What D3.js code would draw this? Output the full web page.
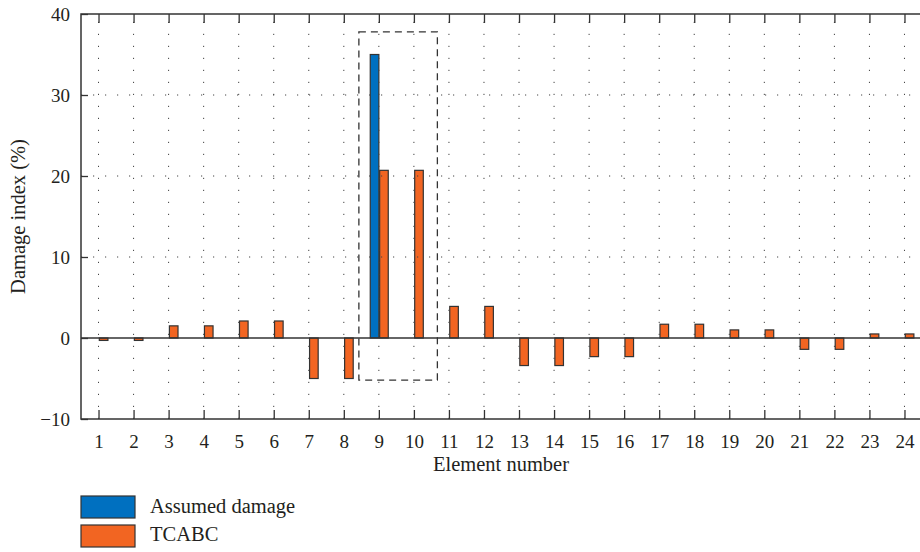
<!DOCTYPE html>
<html>
<head>
<meta charset="utf-8">
<script src="https://cdn.jsdelivr.net/npm/d3@7"></script>
<style>
  body { margin: 0; background: #fff; }
  text { font-family: "Liberation Serif", "Times New Roman", serif; fill: #231f20; }
</style>
</head>
<body>
<div id="chart"></div>
<script>
var width = 920;
var height = 552;

// data
var elements = d3.range(1, 25);
var assumed = [0, 0, 0, 0, 0, 0, 0, 0, 35, 0, 0, 0, 0, 0, 0, 0, 0, 0, 0, 0, 0, 0, 0, 0];
var tcabc = [-0.3, -0.3, 1.5, 1.5, 2.1, 2.1, -5.0, -5.0, 20.7, 20.7, 3.9, 3.9,
             -3.4, -3.4, -2.3, -2.3, 1.7, 1.7, 1.0, 1.0, -1.4, -1.4, 0.5, 0.5];
var yTicks = [-10, 0, 10, 20, 30, 40];
var seriesNames = ["Assumed damage", "TCABC"];
var seriesColors = ["#0070c0", "#f26522"];
// dashed box around elements 9 and 10: [x0, x1, y0, y1]
var highlight = [8.43, 10.67, -5.2, 37.8];

var margin = {left: 81, top: 14, right: -2, bottom: 133};
var serif = '"Liberation Serif", "Times New Roman", serif';

var svg = d3.select("#chart")
    .append("svg")
    .attr("width", width)
    .attr("height", height);

var x = d3.scaleLinear()
    .domain([0.5, 24.5])
    .range([margin.left, width - margin.right]);
var y = d3.scaleLinear()
    .domain([-10, 40])
    .range([height - margin.bottom, margin.top]);

var barW = 8.6;

// bars
var bars = svg.append("g");
elements.forEach(function(e, i) {
    if (assumed[i] !== 0) {
        bars.append("rect")
            .attr("x", x(e) - barW)
            .attr("y", y(Math.max(0, assumed[i])))
            .attr("width", barW)
            .attr("height", Math.abs(y(assumed[i]) - y(0)))
            .style("fill", seriesColors[0])
            .style("stroke", "#333")
            .style("stroke-width", 1.2);
    }
    bars.append("rect")
        .attr("x", x(e) + 0.8)
        .attr("y", y(Math.max(0, tcabc[i])))
        .attr("width", barW)
        .attr("height", Math.abs(y(tcabc[i]) - y(0)))
        .style("fill", seriesColors[1])
        .style("stroke", "#333")
        .style("stroke-width", 1.2);
});

// dotted grid
var grid = svg.append("g")
    .style("stroke", "#444")
    .style("stroke-width", 1)
    .style("stroke-dasharray", "1.2,10.8");
grid.selectAll(".vg")
    .data(elements)
    .enter().append("line")
    .attr("x1", d => x(d)).attr("x2", d => x(d))
    .attr("y1", y(-10)).attr("y2", y(40));
grid.selectAll(".hg")
    .data(yTicks.filter(d => d !== 0 && d !== 40 && d !== -10))
    .enter().append("line")
    .attr("x1", x(0.5)).attr("x2", x(24.5))
    .attr("y1", d => y(d)).attr("y2", d => y(d));

// zero line
svg.append("line")
    .attr("x1", x(0.5)).attr("x2", x(24.5))
    .attr("y1", y(0)).attr("y2", y(0))
    .style("stroke", "#333").style("stroke-width", 1.3);

// axes (ticks pointing inward)
svg.append("g")
    .attr("transform", `translate(0,${y(-10)})`)
    .call(d3.axisBottom(x).tickValues(elements).tickSize(-9).tickPadding(16).tickFormat(d3.format("d")))
    .call(g => g.select(".domain").remove());
svg.append("g")
    .attr("transform", `translate(0,${y(40)})`)
    .call(d3.axisTop(x).tickValues(elements).tickSize(-9).tickFormat(""))
    .call(g => g.select(".domain").remove());
svg.append("g")
    .attr("transform", `translate(${x(0.5)},0)`)
    .call(d3.axisLeft(y).tickValues(yTicks).tickSize(-7).tickPadding(11).tickFormat(d => d < 0 ? "\u2212" + Math.abs(d) : d))
    .call(g => g.select(".domain").remove());

svg.selectAll("g").attr("font-family", serif);
svg.selectAll(".tick line").style("stroke", "#333").style("stroke-width", 1.3);
svg.selectAll(".tick text")
    .style("font-family", serif)
    .style("font-size", "19px")
    .style("fill", "#231f20");

// frame
svg.append("rect")
    .attr("x", x(0.5)).attr("y", y(40))
    .attr("width", x(24.5) - x(0.5))
    .attr("height", y(-10) - y(40))
    .style("fill", "none")
    .style("stroke", "#333")
    .style("stroke-width", 1.5);

// dashed highlight box
svg.append("rect")
    .attr("x", x(highlight[0]))
    .attr("y", y(highlight[3]))
    .attr("width", x(highlight[1]) - x(highlight[0]))
    .attr("height", y(highlight[2]) - y(highlight[3]))
    .style("fill", "none")
    .style("stroke", "#333")
    .style("stroke-width", 1.3)
    .style("stroke-dasharray", "7,5");

// axis titles
svg.append("text")
    .attr("x", 501)
    .attr("y", 471)
    .attr("text-anchor", "middle")
    .style("font-family", serif)
    .style("font-size", "20.5px")
    .text("Element number");
svg.append("text")
    .attr("transform", `translate(25,${(y(40) + y(-10)) / 2}) rotate(-90)`)
    .attr("text-anchor", "middle")
    .style("font-family", serif)
    .style("font-size", "20.5px")
    .text("Damage index (%)");

// legend
var legend = svg.append("g");
seriesNames.forEach(function(name, i) {
    legend.append("rect")
        .attr("x", 81).attr("y", 496 + i * 29)
        .attr("width", 54).attr("height", 22)
        .style("fill", seriesColors[i])
        .style("stroke", "#333")
        .style("stroke-width", 1.2);
    legend.append("text")
        .attr("x", 150).attr("y", 513 + i * 28)
        .style("font-family", serif)
        .style("font-size", "20.5px")
        .text(name);
});
</script>
</body>
</html>
